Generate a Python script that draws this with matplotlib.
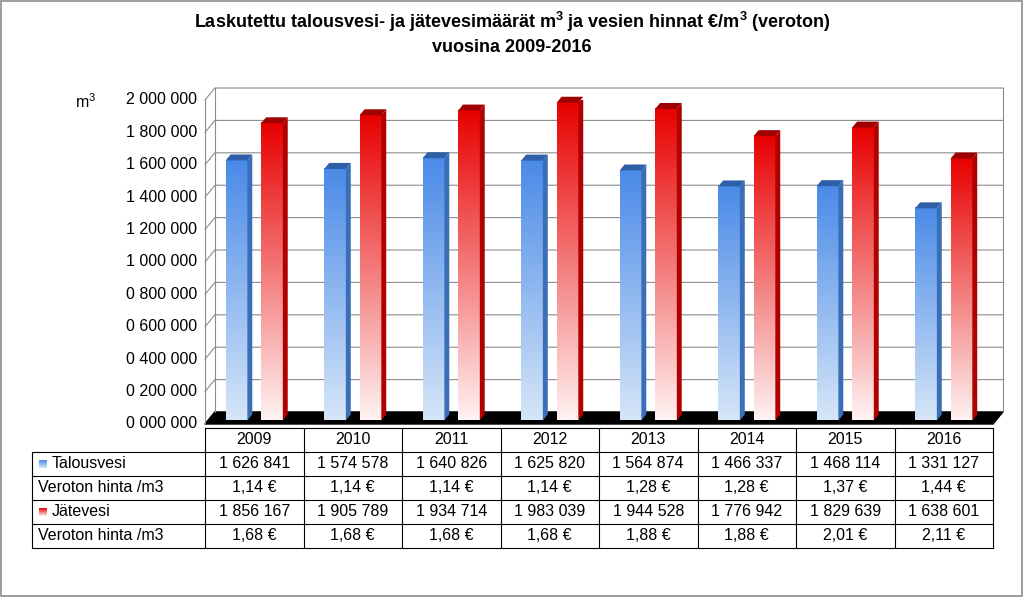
import numpy as np
import matplotlib
matplotlib.use("Agg")
import matplotlib.pyplot as plt
from matplotlib.colors import LinearSegmentedColormap
from matplotlib.patches import Polygon, Rectangle

plt.rcParams["font.family"] = "Liberation Sans"
plt.rcParams["mathtext.fontset"] = "custom"
plt.rcParams["mathtext.rm"] = "Liberation Sans"
plt.rcParams["mathtext.bf"] = "Liberation Sans:bold"

years = ["2009", "2010", "2011", "2012", "2013", "2014", "2015", "2016"]
talousvesi = [1626841, 1574578, 1640826, 1625820, 1564874, 1466337, 1468114, 1331127]
hinta_t = ["1,14 €", "1,14 €", "1,14 €", "1,14 €", "1,28 €", "1,28 €", "1,37 €", "1,44 €"]
jatevesi = [1856167, 1905789, 1934714, 1983039, 1944528, 1776942, 1829639, 1638601]
hinta_j = ["1,68 €", "1,68 €", "1,68 €", "1,68 €", "1,88 €", "1,88 €", "2,01 €", "2,11 €"]
yticks = list(range(0, 2000001, 200000))

W, H = 1024, 598
fig = plt.figure(figsize=(W/100, H/100), dpi=100)
fig.patch.set_facecolor("white")

ov = fig.add_axes([0, 0, 1, 1])
ov.set_xlim(0, W); ov.set_ylim(H, 0); ov.axis("off")
ov.add_patch(Rectangle((1, 1), W-3, H-3, fill=False, ec="#8c8c8c", lw=1.2))

ov.text(512, 22, r"Laskutettu talousvesi- ja jätevesimäärät m$^\mathbf{3}$ ja vesien hinnat €/m$^\mathbf{3}$ (veroton)",
        ha="center", va="center", fontsize=13, fontweight="bold")
ov.text(512, 47, "vuosina 2009-2016", ha="center", va="center", fontsize=13, fontweight="bold")
ov.text(75, 102, "m$^3$", ha="left", va="center", fontsize=11.5)

L, R, T, B = 205, 993, 100, 424
ax = fig.add_axes([L/W, 1-B/H, (R-L)/W, (B-T)/H])
ax.set_xlim(-0.5, 7.5); ax.set_ylim(0, 2000000)
ax.axis("off")
ax.set_zorder(2); ax.patch.set_alpha(0)

dx, dy = 0.1, 74000
for v in yticks:
    ax.plot([-0.5, -0.5+dx, 7.5+dx], [v, v+dy, v+dy], color="#8c8c8c", lw=0.8, zorder=0, clip_on=False)
    ov.text(197, B - (B-T)*v/2000000, f"{v//1000000} {(v//1000)%1000:03d} 000",
            ha="right", va="center", fontsize=11.5)
ax.plot([-0.5, -0.5], [0, 2000000], color="#8c8c8c", lw=0.8)
ax.plot([-0.5+dx, -0.5+dx], [dy, 2000000+dy], color="#8c8c8c", lw=0.8, clip_on=False)
ax.plot([7.5+dx, 7.5+dx], [dy, 2000000+dy], color="#8c8c8c", lw=0.8, clip_on=False)
ax.add_patch(Polygon([(-0.5, 0), (7.5, 0), (7.5+dx, dy), (-0.5+dx, dy)], closed=True,
                     fc="black", ec="black", zorder=1, clip_on=False))

cm_b = LinearSegmentedColormap.from_list("b", ["#d6e6f8", "#4a8ae8"])
cm_r = LinearSegmentedColormap.from_list("r", ["#fff2f2", "#e80000"])
grad = np.linspace(0, 1, 256).reshape(-1, 1)
bw = 0.22
def bar(xc, val, cm, side, top):
    x0, x1 = xc - bw/2, xc + bw/2
    b0 = dy*0.3
    ax.imshow(grad, extent=(x0, x1, b0, val), origin="lower", cmap=cm, aspect="auto", zorder=3)
    ax.add_patch(Polygon([(x1, b0), (x1+dx*0.5, b0+dy*0.5), (x1+dx*0.5, val+dy*0.5), (x1, val)],
                         fc=side, ec="none", zorder=3))
    ax.add_patch(Polygon([(x0, val), (x1, val), (x1+dx*0.5, val+dy*0.5), (x0+dx*0.5, val+dy*0.5)],
                         fc=top, ec="none", zorder=3, clip_on=False))
for i in range(8):
    bar(i-0.18, talousvesi[i], cm_b, "#3a6fb8", "#2f5fa8")
    bar(i+0.18, jatevesi[i], cm_r, "#b00000", "#a00000")
ax.set_xlim(-0.5, 7.5); ax.set_ylim(0, 2000000)

cols = [L + (R-L)*k/8 for k in range(9)]
rows = [428, 452, 476, 500, 524, 548]
lc = "black"
for y in rows:
    ov.plot([32 if y > 428 else L, R], [y, y], color=lc, lw=0.8)
ov.plot([32, 32], [452, 548], color=lc, lw=0.8)
for x in cols:
    ov.plot([x, x], [428, 548], color=lc, lw=0.8)
labels = ["Talousvesi", "Veroton hinta /m3", "Jätevesi", "Veroton hinta /m3"]
fmt = lambda v: f"{v//1000000} {(v//1000)%1000:03d} {v%1000:03d}"
data = [[fmt(v) for v in talousvesi], hinta_t, [fmt(v) for v in jatevesi], hinta_j]
for k in range(8):
    ov.text((cols[k]+cols[k+1])/2, 440, years[k], ha="center", va="center", fontsize=11.5)
for r in range(4):
    yc = (rows[r+1]+rows[r+2])/2
    ov.text(52 if r in (0, 2) else 38, yc, labels[r], ha="left", va="center", fontsize=11.5)
    for k in range(8):
        ov.text((cols[k]+cols[k+1])/2, yc, data[r][k], ha="center", va="center", fontsize=11.5)
ov.imshow(grad, extent=(39, 47, 468, 460), origin="lower", cmap=cm_b, aspect="auto")
ov.imshow(grad, extent=(39, 47, 516, 508), origin="lower", cmap=cm_r, aspect="auto")
ov.set_xlim(0, W); ov.set_ylim(H, 0)

fig.savefig("out.png", dpi=100)
